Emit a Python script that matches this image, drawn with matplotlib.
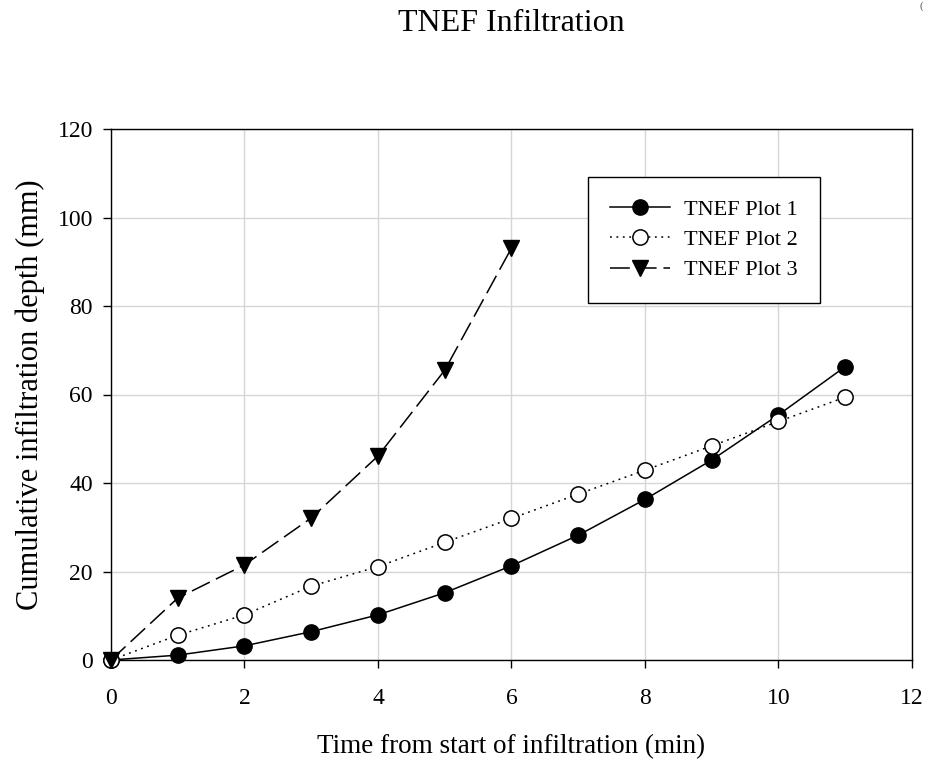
import numpy as np
import matplotlib
matplotlib.use("Agg")
import matplotlib.pyplot as plt

plt.rcParams['font.family'] = ['Liberation Serif', 'DejaVu Serif']

# cumulative infiltration depth (mm) against elapsed time (min)
time_1 = [0, 1, 2, 3, 4, 5, 6, 7, 8, 9, 10, 11]
depth_1 = [0, 1.1, 3.2, 6.4, 10.2, 15.2, 21.3, 28.2, 36.3, 45.2, 55.4, 66.3]

time_2 = [0, 1, 2, 3, 4, 5, 6, 7, 8, 9, 10, 11]
depth_2 = [0, 5.6, 10.2, 16.7, 21.1, 26.6, 32.0, 37.5, 42.9, 48.4, 53.9, 59.4]

time_3 = [0, 1, 2, 3, 4, 5, 6]
depth_3 = [0, 14.0, 21.5, 32.1, 46.1, 65.5, 93.1]

labels = ["TNEF Plot 1", "TNEF Plot 2", "TNEF Plot 3"]
x_ticks = [0, 2, 4, 6, 8, 10, 12]
y_ticks = [0, 20, 40, 60, 80, 100, 120]

W, H = 929, 768
fig = plt.figure(figsize=(W / 100, H / 100), dpi=100)
ax = fig.add_axes([111 / W, 1 - 660 / H, (912 - 111) / W, (660 - 129) / H])

ax.plot(time_1, depth_1, color='black', lw=1.1, marker='o', ms=11,
        mfc='black', mec='black', label=labels[0], clip_on=False, zorder=3)
ax.plot(time_2, depth_2, color='black', lw=1.1, dashes=(1.2, 3.0), marker='o', ms=11,
        mfc='white', mec='black', mew=1.1, label=labels[1], clip_on=False, zorder=4)
ax.plot(time_3, depth_3, color='black', lw=1.1, dashes=(13, 4.5), marker='v', ms=11,
        mfc='black', mec='black', label=labels[2], clip_on=False, zorder=5)

ax.set_xlim(0, 12)
ax.set_ylim(0, 120)
ax.set_xticks(x_ticks)
ax.set_yticks(y_ticks)
ax.grid(True, color='#d6d6d6', lw=1.0)
ax.set_axisbelow(True)

for s in ax.spines.values():
    s.set_linewidth(1.0)
    s.set_color('black')
ax.tick_params(direction='out', length=6, width=1.0, labelsize=17)
ax.tick_params(axis='x', pad=14)
ax.tick_params(axis='y', pad=7)

ax.set_xlabel("Time from start of infiltration (min)", fontsize=19.5, labelpad=18)
ax.set_ylabel("Cumulative infiltration depth (mm)", fontsize=22, labelpad=9)

fig.text(511.5 / W, 1 - 31 / H, "TNEF Infiltration", fontsize=23,
         ha='center', va='baseline')
fig.text(0.992, 0.992, "(", fontsize=8, ha='center', va='center', color='#555555')

leg = ax.legend(loc='upper left', bbox_to_anchor=(588 / W, 1 - 177 / H),
                bbox_transform=fig.transFigure, borderaxespad=0, fontsize=16,
                frameon=True, fancybox=False, edgecolor='black', framealpha=1,
                handlelength=2.7, handletextpad=0.6, labelspacing=0.44,
                borderpad=1.0)
leg.get_frame().set_linewidth(1.0)

fig.savefig("out.png", dpi=100)
